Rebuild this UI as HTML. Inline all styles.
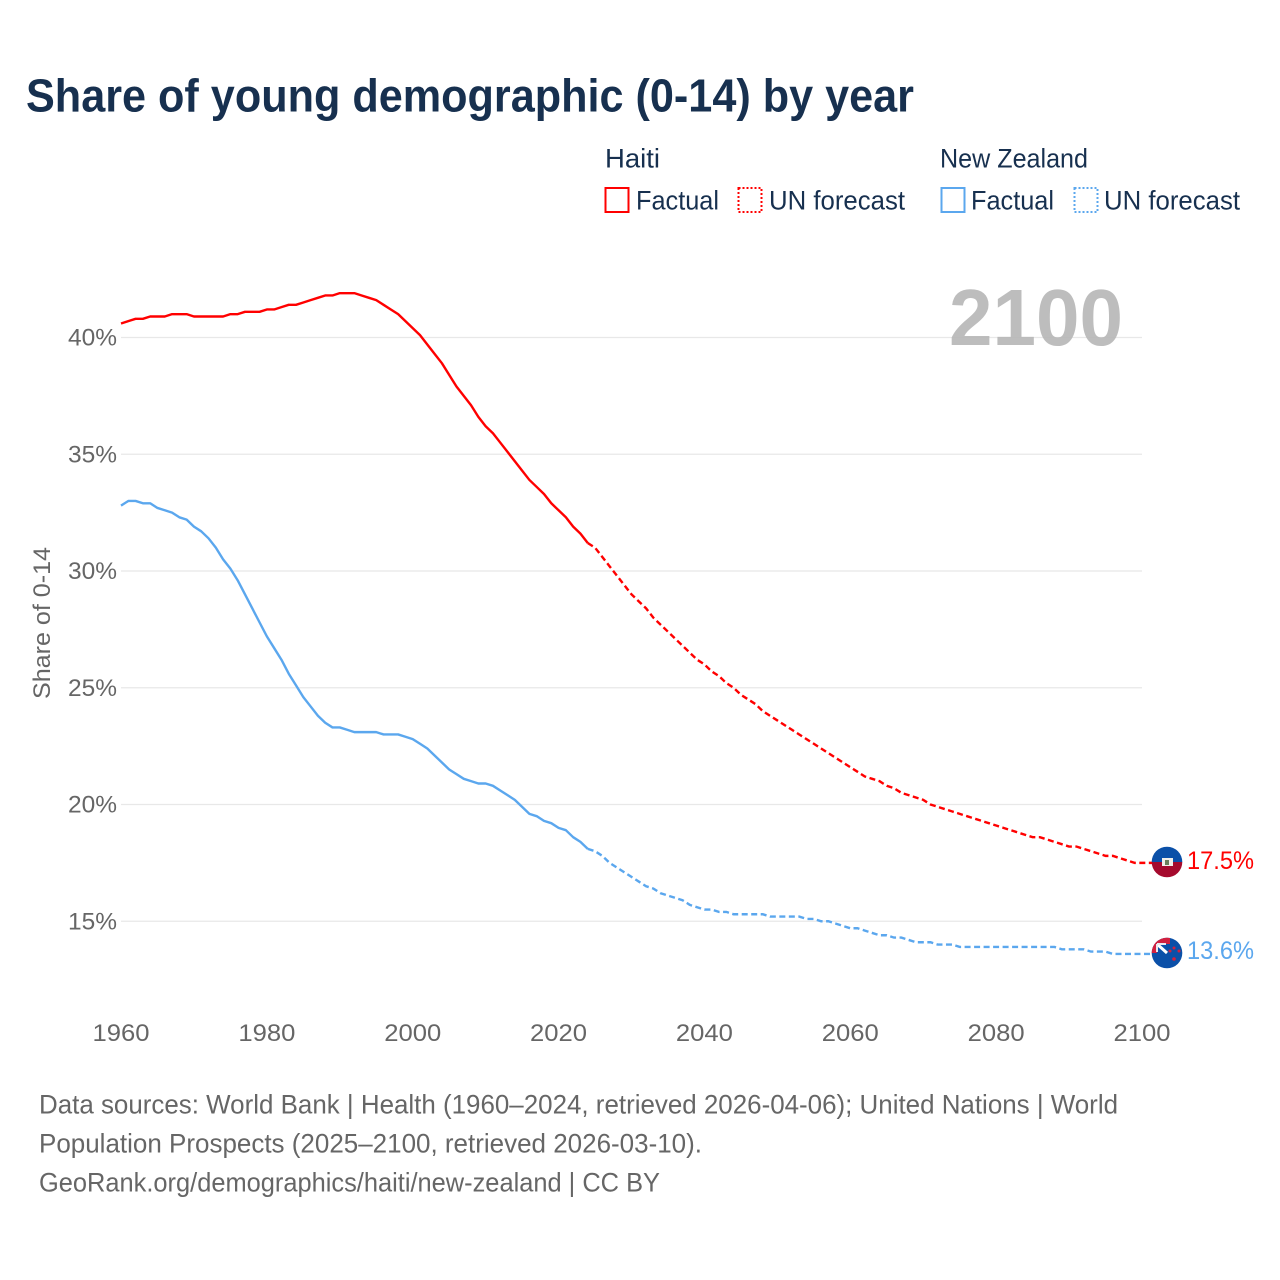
<!DOCTYPE html>
<html lang="en">
<head>
<meta charset="utf-8">
<title>Share of young demographic (0-14) by year</title>
<style>
html,body{margin:0;padding:0;background:#fff;}
svg{display:block;font-family:"Liberation Sans",sans-serif;}
</style>
</head>
<body>
<svg id="chart" width="1280" height="1280" viewBox="0 0 1280 1280" xmlns="http://www.w3.org/2000/svg">
  <defs>
    <clipPath id="clip-haiti"><circle cx="1167" cy="862" r="15.3"/></clipPath>
    <clipPath id="clip-nz"><circle cx="1167" cy="953" r="15.3"/></clipPath>
  </defs>
  <rect width="1280" height="1280" fill="#fff"/>
  <text x="26" y="111.5" font-size="46" font-weight="700" fill="#17304f" textLength="888" lengthAdjust="spacingAndGlyphs">Share of young demographic (0-14) by year</text>

  <g font-size="26.5" fill="#17304f">
    <text x="605" y="167.5" textLength="55" lengthAdjust="spacingAndGlyphs">Haiti</text>
    <text x="940" y="167.5" textLength="148" lengthAdjust="spacingAndGlyphs">New Zealand</text>
    <rect x="605.5" y="188" width="23" height="24" fill="none" stroke="#ff0000" stroke-width="2"/>
    <text x="636" y="209.5" textLength="83" lengthAdjust="spacingAndGlyphs">Factual</text>
    <rect x="738.5" y="188" width="23" height="24" fill="none" stroke="#ff0000" stroke-width="2" stroke-dasharray="2 2"/>
    <text x="769" y="209.5" textLength="136" lengthAdjust="spacingAndGlyphs">UN forecast</text>
    <rect x="941.5" y="188" width="23" height="24" fill="none" stroke="#5ba7ee" stroke-width="2"/>
    <text x="971" y="209.5" textLength="83" lengthAdjust="spacingAndGlyphs">Factual</text>
    <rect x="1074.5" y="188" width="23" height="24" fill="none" stroke="#5ba7ee" stroke-width="2" stroke-dasharray="2 2"/>
    <text x="1104" y="209.5" textLength="136" lengthAdjust="spacingAndGlyphs">UN forecast</text>
  </g>

  <g id="grid"></g>
  <text x="949" y="345" font-size="80" font-weight="700" fill="#b4b4b4" fill-opacity="0.88" textLength="174" lengthAdjust="spacingAndGlyphs">2100</text>
  <g id="yticks" font-size="24" fill="#666"></g>
  <g id="xticks" font-size="24" fill="#666"></g>
  <text transform="translate(50,623) rotate(-90)" text-anchor="middle" font-size="24" fill="#666" textLength="152" lengthAdjust="spacingAndGlyphs">Share of 0-14</text>
  <g id="series"></g>

  <g clip-path="url(#clip-haiti)">
    <rect x="1150" y="845" width="34" height="17" fill="#0b50a8"/>
    <rect x="1150" y="862" width="34" height="17" fill="#a50a2d"/>
    <rect x="1162" y="858" width="11" height="8" fill="#f2f0ea"/>
    <rect x="1165" y="860" width="4" height="5" fill="#6a7f5a"/>
  </g>
  <g clip-path="url(#clip-nz)">
    <rect x="1150" y="936" width="34" height="34" fill="#0b50a8"/>
    <rect x="1150" y="936" width="20" height="17" fill="#d2203f"/>
    <rect x="1157" y="944" width="13" height="9" fill="#0b50a8"/>
    <path d="M1157 944 L1167 953" stroke="#fff" stroke-width="3"/>
    <path d="M1157 944 H1166 M1157 944 V952" stroke="#e8e8ee" stroke-width="2" fill="none"/>
    <circle cx="1174" cy="948" r="1.5" fill="#d2203f"/>
    <circle cx="1170" cy="951" r="1.5" fill="#d2203f"/>
    <circle cx="1179" cy="951" r="1.5" fill="#d2203f"/>
    <circle cx="1174" cy="959" r="1.8" fill="#d2203f"/>
  </g>
  <text x="1187" y="869" font-size="25" fill="#ff0000" textLength="67" lengthAdjust="spacingAndGlyphs">17.5%</text>
  <text x="1187" y="959" font-size="25" fill="#5ba7ee" textLength="67" lengthAdjust="spacingAndGlyphs">13.6%</text>

  <g font-size="27" fill="#666">
    <text x="39" y="1113.5" textLength="1079" lengthAdjust="spacingAndGlyphs">Data sources: World Bank | Health (1960–2024, retrieved 2026-04-06); United Nations | World</text>
    <text x="39" y="1152.5" textLength="663" lengthAdjust="spacingAndGlyphs">Population Prospects (2025–2100, retrieved 2026-03-10).</text>
    <text x="39" y="1191.5" textLength="621" lengthAdjust="spacingAndGlyphs">GeoRank.org/demographics/haiti/new-zealand | CC BY</text>
  </g>
</svg>
<script>
const startYear = 1960;
const lastFactualYear = 2025;
const xTickYears = [1960, 1980, 2000, 2020, 2040, 2060, 2080, 2100];
const yTickValues = [15, 20, 25, 30, 35, 40];
const haitiValues = [
40.6,40.7,40.8,40.8,40.9,40.9,40.9,41.0,41.0,41.0,
40.9,40.9,40.9,40.9,40.9,41.0,41.0,41.1,41.1,41.1,
41.2,41.2,41.3,41.4,41.4,41.5,41.6,41.7,41.8,41.8,
41.9,41.9,41.9,41.8,41.7,41.6,41.4,41.2,41.0,40.7,
40.4,40.1,39.7,39.3,38.9,38.4,37.9,37.5,37.1,36.6,
36.2,35.9,35.5,35.1,34.7,34.3,33.9,33.6,33.3,32.9,
32.6,32.3,31.9,31.6,31.2,31.0,30.6,30.2,29.8,29.4,
29.0,28.7,28.4,28.0,27.7,27.4,27.1,26.8,26.5,26.2,
26.0,25.7,25.5,25.2,25.0,24.7,24.5,24.3,24.0,23.8,
23.6,23.4,23.2,23.0,22.8,22.6,22.4,22.2,22.0,21.8,
21.6,21.4,21.2,21.1,21.0,20.8,20.7,20.5,20.4,20.3,
20.2,20.0,19.9,19.8,19.7,19.6,19.5,19.4,19.3,19.2,
19.1,19.0,18.9,18.8,18.7,18.6,18.6,18.5,18.4,18.3,
18.2,18.2,18.1,18.0,17.9,17.8,17.8,17.7,17.6,17.5,17.5];
const newZealandValues = [
32.8,33.0,33.0,32.9,32.9,32.7,32.6,32.5,32.3,32.2,
31.9,31.7,31.4,31.0,30.5,30.1,29.6,29.0,28.4,27.8,
27.2,26.7,26.2,25.6,25.1,24.6,24.2,23.8,23.5,23.3,
23.3,23.2,23.1,23.1,23.1,23.1,23.0,23.0,23.0,22.9,
22.8,22.6,22.4,22.1,21.8,21.5,21.3,21.1,21.0,20.9,
20.9,20.8,20.6,20.4,20.2,19.9,19.6,19.5,19.3,19.2,
19.0,18.9,18.6,18.4,18.1,18.0,17.8,17.5,17.3,17.1,
16.9,16.7,16.5,16.4,16.2,16.1,16.0,15.9,15.7,15.6,
15.5,15.5,15.4,15.4,15.3,15.3,15.3,15.3,15.3,15.2,
15.2,15.2,15.2,15.2,15.1,15.1,15.0,15.0,14.9,14.8,
14.7,14.7,14.6,14.5,14.4,14.4,14.3,14.3,14.2,14.1,
14.1,14.1,14.0,14.0,14.0,13.9,13.9,13.9,13.9,13.9,
13.9,13.9,13.9,13.9,13.9,13.9,13.9,13.9,13.9,13.8,
13.8,13.8,13.8,13.7,13.7,13.7,13.6,13.6,13.6,13.6,13.6];

const NS = 'http://www.w3.org/2000/svg';
function xScale(year) { return 121 + (year - 1960) * (1142 - 121) / 140; }
function yScale(pct) { return 337.5 + (40 - pct) * 23.35; }

const gridGroup = document.getElementById('grid');
const yGroup = document.getElementById('yticks');
const xGroup = document.getElementById('xticks');
const seriesGroup = document.getElementById('series');

yTickValues.forEach(function (v) {
  const line = document.createElementNS(NS, 'line');
  
  
  line.setAttribute('x1', 121);
  line.setAttribute('x2', 1142);
  line.setAttribute('y1', yScale(v));
  line.setAttribute('y2', yScale(v));
  line.setAttribute('stroke', '#e8e8e8');
  line.setAttribute('stroke-width', '1.3');
  gridGroup.appendChild(line);
  const label = document.createElementNS(NS, 'text');
  
  
  label.setAttribute('x', 68);
  label.setAttribute('y', yScale(v) + 8);
  label.setAttribute('textLength', 49);
  label.setAttribute('lengthAdjust', 'spacingAndGlyphs');
  label.textContent = v + '%';
  yGroup.appendChild(label);
});

xTickYears.forEach(function (year) {
  const label = document.createElementNS(NS, 'text');
  
  
  label.setAttribute('x', xScale(year) - 28.5);
  label.setAttribute('y', 1041);
  label.setAttribute('textLength', 57);
  label.setAttribute('lengthAdjust', 'spacingAndGlyphs');
  label.textContent = year;
  xGroup.appendChild(label);
});

function pathFor(values, fromYear, toYear, extend) {
  let d = '';
  values.forEach(function (v, i) {
    const year = startYear + i;
    if (year < fromYear || year > toYear) return;
    d += (d ? 'L' : 'M') + xScale(year).toFixed(2) + ' ' + yScale(v).toFixed(2);
  });
  if (extend) d += 'L1160 ' + yScale(values[values.length - 1]).toFixed(2);
  return d;
}

function drawSeries(values, color, key) {
  const solid = document.createElementNS(NS, 'path');
  
  
  solid.setAttribute('d', pathFor(values, startYear, lastFactualYear - 1, false));
  solid.setAttribute('fill', 'none');
  solid.setAttribute('stroke', color);
  solid.setAttribute('stroke-width', '2.4');
  solid.setAttribute('stroke-linejoin', 'round');
  seriesGroup.appendChild(solid);
  const dashed = document.createElementNS(NS, 'path');
  
  
  dashed.setAttribute('d', pathFor(values, lastFactualYear - 1, 2100, true));
  dashed.setAttribute('fill', 'none');
  dashed.setAttribute('stroke', color);
  dashed.setAttribute('stroke-width', '2.4');
  dashed.setAttribute('stroke-dasharray', '6 3.5');
  seriesGroup.appendChild(dashed);
}

drawSeries(haitiValues, '#ff0000', 'haiti');
drawSeries(newZealandValues, '#5ba7ee', 'new-zealand');
</script>
</body>
</html>
